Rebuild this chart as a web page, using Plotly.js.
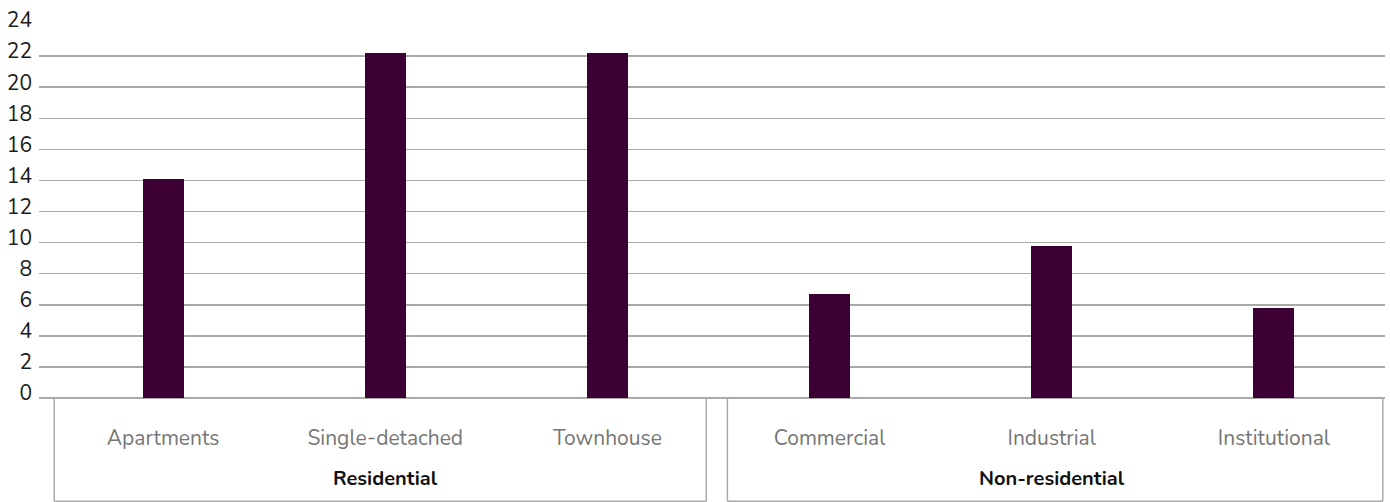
<!DOCTYPE html>
<html>
<head>
<meta charset="utf-8">
<script src="https://cdn.plot.ly/plotly-3.0.1.min.js"></script>
<style>html,body{margin:0;padding:0;background:#fff;}#chart{width:1390px;height:502px;}</style>
</head>
<body>
<div id="chart"></div>
<script>
const categories = ["Apartments", "Single-detached", "Townhouse", "Commercial", "Industrial", "Institutional"];
const groups = ["Residential", "Non-residential"];
const groupOfCategory = [0, 0, 0, 1, 1, 1];
const values = [14.1, 22.2, 22.2, 6.7, 9.8, 5.8];
const yTicks = [0, 2, 4, 6, 8, 10, 12, 14, 16, 18, 20, 22, 24];

const FONT = "Nunito, Lato, 'Open Sans', sans-serif";
const LINE = "#a9a9a9";
const xIdx = categories.map((c, i) => i);

const trace = {
  type: "bar",
  x: xIdx,
  y: values,
  width: 0.185,
  marker: {color: "#3c0034"},
  hoverinfo: "skip"
};

const boxBottom = -0.277;
const boxes = [[-0.49, 2.445], [2.54, 5.49]];
const shapes = [];
boxes.forEach(b => {
  shapes.push({type: "line", xref: "x", yref: "paper", x0: b[0], x1: b[0], y0: 0, y1: boxBottom, line: {color: LINE, width: 1.5}});
  shapes.push({type: "line", xref: "x", yref: "paper", x0: b[1], x1: b[1], y0: 0, y1: boxBottom, line: {color: LINE, width: 1.5}});
  shapes.push({type: "line", xref: "x", yref: "paper", x0: b[0], x1: b[1], y0: boxBottom, y1: boxBottom, line: {color: LINE, width: 1.5}});
});

const annotations = groups.map((g, gi) => {
  const idx = xIdx.filter(i => groupOfCategory[i] === gi);
  const mid = idx[Math.floor(idx.length / 2)];
  return {
    text: "<b>" + g + "</b>", xref: "x", yref: "paper", x: mid, y: -0.2145,
    xanchor: "center", yanchor: "middle", showarrow: false,
    font: {family: FONT, size: 20, color: "#111111"}
  };
});

const layout = {
  width: 1390, height: 502,
  margin: {l: 39, r: 5, t: 25, b: 104},
  paper_bgcolor: "#ffffff", plot_bgcolor: "#ffffff",
  showlegend: false,
  bargap: 0,
  xaxis: {
    range: [-0.5586, 5.5],
    tickvals: xIdx, ticktext: categories,
    showgrid: false, zeroline: false, showline: false, ticks: "",
    ticklabelstandoff: 25,
    tickfont: {family: FONT, size: 21, color: "#767676"},
    fixedrange: true
  },
  yaxis: {
    range: [0, 24], tickvals: yTicks, ticktext: yTicks.map(String),
    showgrid: true, gridcolor: LINE, gridwidth: 1.5,
    zeroline: true, zerolinecolor: LINE, zerolinewidth: 1.5,
    showline: false, ticks: "",
    ticklabelstandoff: 6,
    ticklabelshift: -5,
    tickfont: {family: FONT, size: 21, color: "#1a1a1a"},
    fixedrange: true
  },
  shapes: shapes,
  annotations: annotations
};

Plotly.newPlot("chart", [trace], layout, {displayModeBar: false, staticPlot: true});
</script>
</body>
</html>
